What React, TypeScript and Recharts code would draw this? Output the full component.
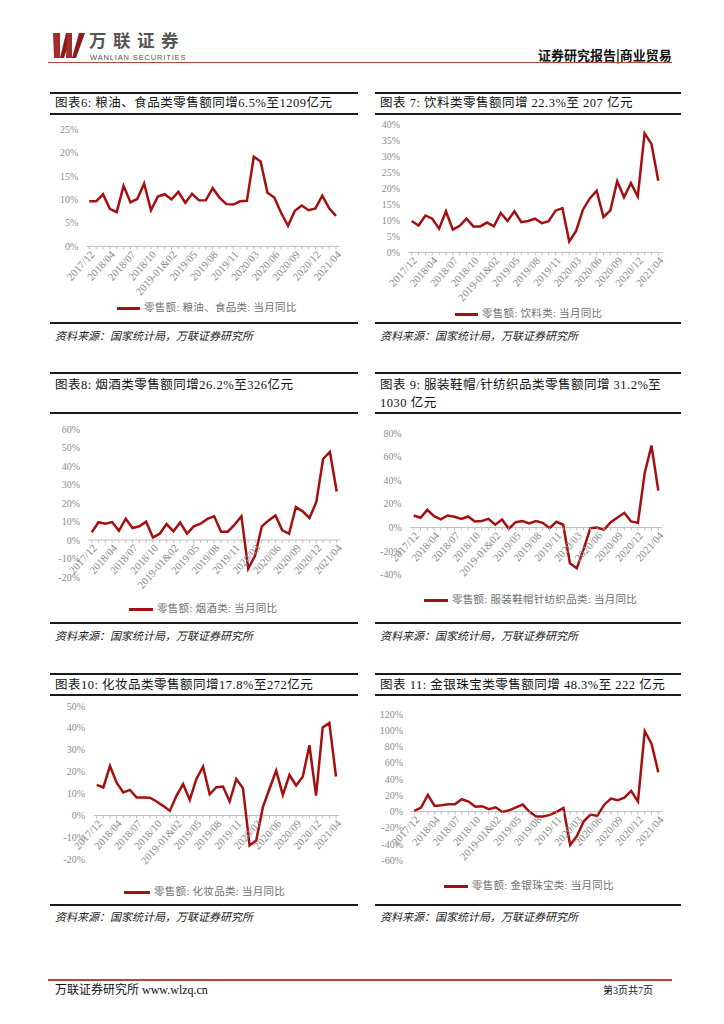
import React from 'react';
import { LineChart, Line, XAxis, YAxis, ReferenceLine } from 'recharts';

// 月份（1-2月合并）
const months = [
  '2017/12', '2018-01&02', '2018/03', '2018/04', '2018/05', '2018/06', '2018/07', '2018/08', '2018/09',
  '2018/10', '2018/11', '2018/12', '2019-01&02', '2019/03', '2019/04', '2019/05', '2019/06', '2019/07',
  '2019/08', '2019/09', '2019/10', '2019/11', '2019/12', '2020-01&02', '2020/03', '2020/04', '2020/05',
  '2020/06', '2020/07', '2020/08', '2020/09', '2020/10', '2020/11', '2020/12', '2021-01&02', '2021/03', '2021/04',
];

// 当月同比 %
const grainOil = [
  9.6, 9.6, 11.1, 8.0, 7.3, 12.9, 9.4, 10.1, 13.4, 7.7, 10.6, 11.1, 10.0, 11.6, 9.3, 11.2, 9.8, 9.8,
  12.4, 10.4, 9.0, 8.9, 9.6, 9.7, 19.1, 18.1, 11.4, 10.4, 7.1, 4.4, 7.6, 8.7, 7.7, 8.1, 10.8, 8.1, 6.5,
];
const beverage = [
  9.8, 8.4, 11.5, 10.5, 7.4, 12.8, 7.1, 8.3, 10.5, 8.1, 8.1, 9.3, 8.1, 12.3, 9.8, 12.8, 9.4, 9.8,
  10.5, 9.1, 9.7, 13.0, 13.8, 3.4, 6.7, 13.3, 16.8, 19.2, 11.0, 13.1, 22.2, 17.2, 21.6, 17.4, 37.1, 33.8, 22.3,
];
const tobaccoLiquor = [
  4.1, 9.6, 8.8, 9.7, 5.0, 11.5, 6.5, 7.4, 9.9, 1.4, 3.4, 8.6, 4.7, 9.5, 3.4, 7.4, 8.8, 11.4,
  12.8, 4.5, 4.5, 8.3, 12.8, -15.5, -8.5, 7.4, 10.6, 13.3, 5.2, 3.4, 17.8, 15.5, 11.9, 20.5, 43.8, 47.6, 26.2,
];
const apparel = [
  10.1, 8.2, 14.9, 9.6, 6.8, 10.1, 9.0, 7.3, 9.3, 5.1, 5.4, 7.3, 2.3, 6.8, -1.1, 4.5, 5.4, 3.4,
  5.4, 3.9, -0.6, 4.8, 2.3, -30.4, -34.6, -18.5, -0.6, 0.0, -2.0, 4.5, 8.5, 12.4, 5.1, 3.9, 46.2, 69.3, 31.2,
];
const cosmetics = [
  14.0, 12.8, 22.6, 15.0, 10.5, 11.7, 8.2, 8.2, 8.1, 6.4, 4.4, 2.1, 9.0, 14.3, 7.1, 16.7, 22.3, 9.7,
  12.9, 13.2, 6.4, 16.7, 12.5, -13.7, -11.4, 3.8, 12.2, 20.5, 9.4, 18.5, 13.7, 17.7, 32.1, 9.1, 40.2, 42.3, 17.8,
];
const jewelry = [
  0.8, 4.9, 20.5, 7.0, 7.8, 9.0, 9.0, 15.2, 12.3, 6.1, 6.6, 2.9, 5.3, -0.4, 1.6, 5.3, 8.6, -0.4,
  -6.1, -6.1, -4.1, -0.4, 4.5, -41.0, -29.9, -11.9, -3.7, -5.3, 8.2, 16.0, 13.9, 17.2, 25.4, 12.3, 98.8, 83.6, 48.3,
];

const RED = '#a50f0f';
const AXIS_GRAY = '#bfbfbf';
const TICK_GRAY = '#8c8c8c';
const SERIF = "'Liberation Serif', 'Noto Sans CJK SC', serif";
const SOURCE = '资料来源：国家统计局，万联证券研究所';

type Geo = {
  left: number;
  axisStart: number;
  axisEnd: number;
  first: number;
  last: number;
  yTop: number;
  yBottom: number;
  labelEnd: number;
};

type Panel = {
  x: number;
  w: number;
  title: string[];
  topLine: number;
  titleY: number;
  midLine: number;
  bottomLine: number;
  sourceY: number;
  legendY: number;
  legendX1: number;
  legendX2: number;
  legendText: string;
  values: number[];
  domain: [number, number];
  ticks: number[];
  geo: Geo;
};

const panels: Panel[] = [
  {
    x: 50, w: 308, title: ['图表6: 粮油、食品类零售额同增6.5%至1209亿元'],
    topLine: 93, titleY: 103, midLine: 114, bottomLine: 323, sourceY: 336,
    legendY: 308, legendX1: 117, legendX2: 140, legendText: '零售额: 粮油、食品类: 当月同比',
    values: grainOil, domain: [0, 25], ticks: [0, 5, 10, 15, 20, 25],
    geo: { left: 50, axisStart: 86.7, axisEnd: 340, first: 89.3, last: 336, yTop: 129.3, yBottom: 246.7, labelEnd: 78.3 },
  },
  {
    x: 375, w: 306, title: ['图表 7: 饮料类零售额同增 22.3%至 207 亿元'],
    topLine: 93, titleY: 103, midLine: 114, bottomLine: 323, sourceY: 336,
    legendY: 314, legendX1: 455, legendX2: 478, legendText: '零售额: 饮料类: 当月同比',
    values: beverage, domain: [0, 40], ticks: [0, 5, 10, 15, 20, 25, 30, 35, 40],
    geo: { left: 375, axisStart: 408, axisEnd: 662, first: 411.7, last: 658.3, yTop: 124.3, yBottom: 252.7, labelEnd: 400 },
  },
  {
    x: 50, w: 308, title: ['图表8: 烟酒类零售额同增26.2%至326亿元'],
    topLine: 373, titleY: 385, midLine: 413, bottomLine: 623, sourceY: 636,
    legendY: 609, legendX1: 129, legendX2: 153, legendText: '零售额: 烟酒类: 当月同比',
    values: tobaccoLiquor, domain: [-20, 60], ticks: [-20, -10, 0, 10, 20, 30, 40, 50, 60],
    geo: { left: 50, axisStart: 88, axisEnd: 340, first: 91.7, last: 336.7, yTop: 429.3, yBottom: 577.3, labelEnd: 80 },
  },
  {
    x: 375, w: 306, title: ['图表 9: 服装鞋帽/针纺织品类零售额同增 31.2%至', '1030 亿元'],
    topLine: 373, titleY: 385, midLine: 413, bottomLine: 623, sourceY: 636,
    legendY: 600, legendX1: 424, legendX2: 448, legendText: '零售额: 服装鞋帽针纺织品类: 当月同比',
    values: apparel, domain: [-40, 80], ticks: [-40, -20, 0, 20, 40, 60, 80],
    geo: { left: 375, axisStart: 410, axisEnd: 662, first: 413.7, last: 658.3, yTop: 433.3, yBottom: 575, labelEnd: 401.7 },
  },
  {
    x: 50, w: 308, title: ['图表10: 化妆品类零售额同增17.8%至272亿元'],
    topLine: 674, titleY: 685, midLine: 695, bottomLine: 905, sourceY: 917,
    legendY: 892, legendX1: 124, legendX2: 150, legendText: '零售额: 化妆品类: 当月同比',
    values: cosmetics, domain: [-20, 50], ticks: [-20, -10, 0, 10, 20, 30, 40, 50],
    geo: { left: 50, axisStart: 94, axisEnd: 339.3, first: 96.7, last: 336, yTop: 706, yBottom: 859.3, labelEnd: 85 },
  },
  {
    x: 375, w: 306, title: ['图表 11: 金银珠宝类零售额同增 48.3%至 222 亿元'],
    topLine: 674, titleY: 685, midLine: 695, bottomLine: 905, sourceY: 917,
    legendY: 886, legendX1: 444, legendX2: 468, legendText: '零售额: 金银珠宝类: 当月同比',
    values: jewelry, domain: [-60, 120], ticks: [-60, -40, -20, 0, 20, 40, 60, 80, 100, 120],
    geo: { left: 375, axisStart: 410, axisEnd: 662, first: 414.3, last: 658.3, yTop: 714.3, yBottom: 860.7, labelEnd: 403 },
  },
];

function MiniChart({ values, domain, ticks, geo }: { values: number[]; domain: [number, number]; ticks: number[]; geo: Geo }) {
  const top = geo.yTop - 10;
  const xAxisH = 60;
  const width = 310;
  const height = geo.yBottom - top + xAxisH;
  const plotH = geo.yBottom - geo.yTop;
  // x labels sit on the zero line, not at the plot bottom
  const zeroShift = (plotH * (0 - domain[0])) / (domain[1] - domain[0]);
  const data = months.map((m, i) => ({ m, v: values[i] }));

  const renderTick = (props: any) => {
    const { x, y, payload, index } = props;
    const y0 = y - zeroShift;
    const tx = x + 3;
    const ty = y0 + 6;
    return (
      <g>
        <line x1={x} x2={x} y1={y0} y2={y0 + 3} stroke={AXIS_GRAY} />
        {index % 3 === 0 && (
          <text
            x={tx}
            y={ty}
            transform={`rotate(-48, ${tx}, ${ty})`}
            textAnchor="end"
            dy="0.35em"
            fontSize={10.8}
            fill={TICK_GRAY}
            fontFamily={SERIF}
          >
            {payload.value}
          </text>
        )}
      </g>
    );
  };

  return (
    <div style={{ position: 'absolute', left: geo.left, top }}>
      <LineChart
        width={width}
        height={height}
        data={data}
        margin={{ top: 10, right: geo.left + width - geo.axisEnd, bottom: 0, left: 0 }}
      >
        <XAxis
          dataKey="m"
          interval={0}
          tick={renderTick}
          tickSize={0}
          tickMargin={0}
          axisLine={false}
          tickLine={false}
          height={xAxisH}
          padding={{ left: geo.first - geo.axisStart, right: geo.axisEnd - geo.last }}
        />
        <YAxis
          width={geo.axisStart - geo.left}
          domain={domain}
          ticks={ticks}
          interval={0}
          axisLine={false}
          tickLine={false}
          tickSize={0}
          tickMargin={geo.axisStart - geo.labelEnd}
          tickFormatter={(v: number) => `${v}%`}
          tick={{ fontSize: 10, fill: TICK_GRAY, fontFamily: SERIF }}
        />
        <ReferenceLine y={0} stroke={AXIS_GRAY} />
        <Line type="linear" dataKey="v" stroke={RED} strokeWidth={2.5} dot={false} isAnimationActive={false} />
      </LineChart>
    </div>
  );
}

function PanelBlock({ p }: { p: Panel }) {
  const hline = (y: number, h: number) => (
    <div style={{ position: 'absolute', left: p.x, top: y - h / 2, width: p.w, height: h, background: '#1a1a1a' }} />
  );
  return (
    <>
      {hline(p.topLine, 2)}
      {p.title.map((t, i) => (
        <div
          key={i}
          style={{
            position: 'absolute', left: p.x + 5, top: p.titleY - 8 + i * 18, fontSize: 12.5, lineHeight: '16px',
            color: '#111', whiteSpace: 'nowrap', fontFamily: SERIF, letterSpacing: 0.5,
          }}
        >
          {t}
        </div>
      ))}
      {hline(p.midLine, 1.5)}
      <MiniChart values={p.values} domain={p.domain} ticks={p.ticks} geo={p.geo} />
      <div style={{ position: 'absolute', left: p.legendX1, top: p.legendY - 1.5, width: p.legendX2 - p.legendX1, height: 3, background: RED }} />
      <div
        style={{
          position: 'absolute', left: p.legendX2 + 4, top: p.legendY - 7, fontSize: 10.5, lineHeight: '14px',
          color: '#707070', whiteSpace: 'nowrap', fontFamily: SERIF, letterSpacing: 0.3,
        }}
      >
        {p.legendText}
      </div>
      {hline(p.bottomLine, 1.5)}
      <div
        style={{
          position: 'absolute', left: p.x + 5, top: p.sourceY - 7, fontSize: 11, lineHeight: '14px',
          color: '#222', fontStyle: 'italic', whiteSpace: 'nowrap', fontFamily: SERIF,
        }}
      >
        {SOURCE}
      </div>
    </>
  );
}

export default function App() {
  return (
    <div style={{ position: 'absolute', left: 0, top: 0, width: 724, height: 1024, background: '#fff', overflow: 'hidden' }}>
      {/* header */}
      <svg style={{ position: 'absolute', left: 50, top: 32 }} width={36} height={27}>
        <polygon points="3,1 10,1 10,26 4,26" fill="#a52a2a" />
        <polygon points="10,26 14,26 22,1 16,1" fill="#8b1a1a" />
        <polygon points="16,26 22,26 22,1 17,1" fill="#a52a2a" />
        <polygon points="22,26 26,26 35,1 29,1" fill="#8b1a1a" />
      </svg>
      <div
        style={{
          position: 'absolute', left: 89, top: 31, fontSize: 17.5, lineHeight: '18px', fontWeight: 700,
          color: '#555', fontFamily: "'Noto Sans CJK SC', sans-serif", letterSpacing: 6.5, whiteSpace: 'nowrap',
        }}
      >
        万联证券
      </div>
      <div
        style={{
          position: 'absolute', left: 90, top: 54, fontSize: 7.5, lineHeight: '7px', color: '#555',
          fontFamily: "'Liberation Sans', sans-serif", letterSpacing: 0.85, whiteSpace: 'nowrap',
        }}
      >
        WANLIAN SECURITIES
      </div>
      <div
        style={{
          position: 'absolute', left: 538, top: 47, fontSize: 13, lineHeight: '16px', fontWeight: 700,
          color: '#111', fontFamily: "'Noto Sans CJK SC', sans-serif", whiteSpace: 'nowrap',
        }}
      >
        证券研究报告|商业贸易
      </div>
      <div style={{ position: 'absolute', left: 48, top: 61.5, width: 624, height: 1.5, background: '#b5453f' }} />

      {panels.map((p, i) => (
        <PanelBlock key={i} p={p} />
      ))}

      {/* footer */}
      <div style={{ position: 'absolute', left: 48, top: 979, width: 624, height: 2, background: '#b5453f' }} />
      <div
        style={{
          position: 'absolute', left: 55, top: 983, fontSize: 12, lineHeight: '15px', color: '#111',
          fontFamily: SERIF, whiteSpace: 'nowrap',
        }}
      >
        万联证券研究所 www.wlzq.cn
      </div>
      <div
        style={{
          position: 'absolute', left: 603, top: 984, fontSize: 10, lineHeight: '13px', color: '#111',
          fontFamily: SERIF, whiteSpace: 'nowrap',
        }}
      >
        第3页共7页
      </div>
    </div>
  );
}
